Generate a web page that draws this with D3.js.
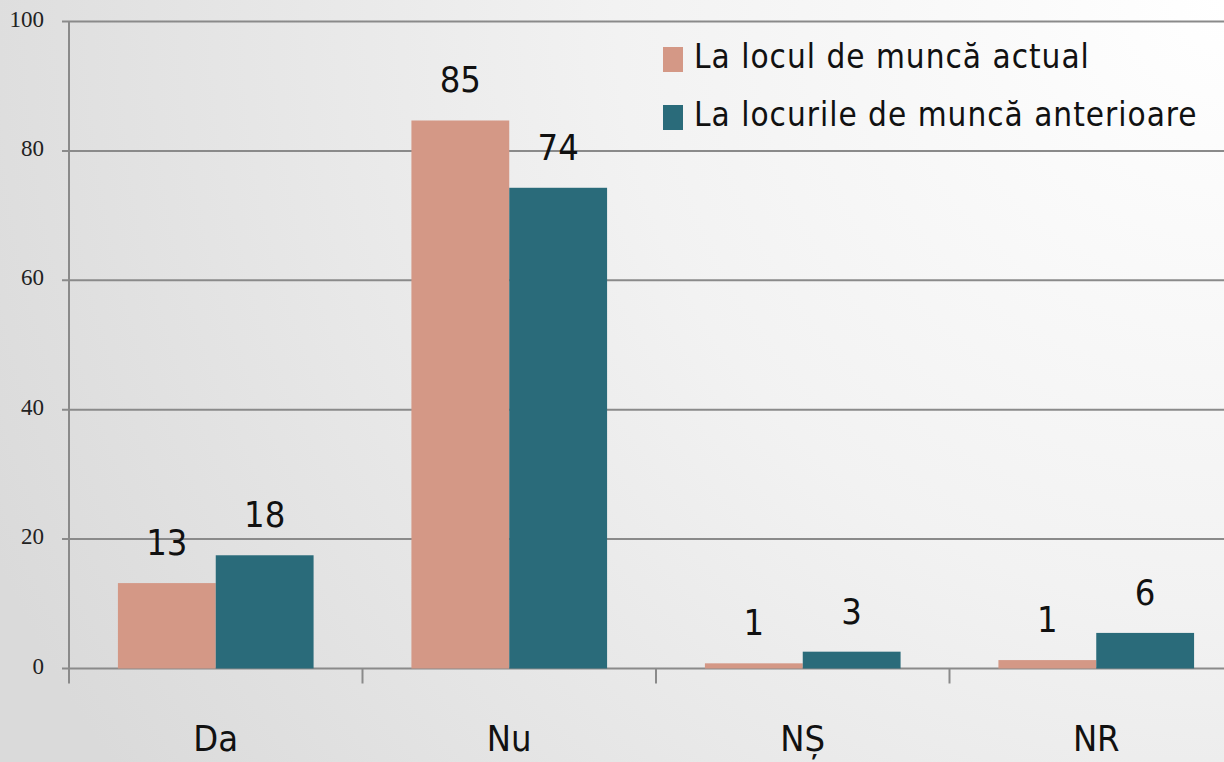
<!DOCTYPE html>
<html lang="ro">
<head>
<meta charset="UTF-8">
<title>La locul de muncă</title>
<script src="https://d3js.org/d3.v7.min.js"></script>
<style>
  body { margin: 0; overflow: hidden; }
  .cond { font-family: "DejaVu Sans Condensed", "Liberation Sans Narrow", "Roboto", sans-serif; }
  .tick-label { font-family: "Liberation Serif", "DejaVu Serif", serif; }
</style>
</head>
<body>
<svg width="1224" height="762"></svg>
<script>
// data
const categories = ["Da", "Nu", "NȘ", "NR"];
const seriesNames = ["La locul de muncă actual", "La locurile de muncă anterioare"];
const actual = [13.2, 84.7, 0.8, 1.3];
const anterior = [17.5, 74.3, 2.6, 5.5];
const actualLabels = ["13", "85", "1", "1"];
const anteriorLabels = ["18", "74", "3", "6"];
const yTicks = [0, 20, 40, 60, 80, 100];
const colors = ["#D49886", "#2A6B7A"];

const W = 1224, H = 762;
const svg = d3.select("svg");

// background: grey on the left/bottom, white towards top right
const defs = svg.append("defs");
const grad = defs.append("radialGradient")
    .attr("id", "bg")
    .attr("gradientUnits", "userSpaceOnUse")
    .attr("cx", 1224).attr("cy", 0).attr("r", 1350);
grad.append("stop").attr("offset", "0").attr("stop-color", "#ffffff");
grad.append("stop").attr("offset", "0.45").attr("stop-color", "#f2f2f2");
grad.append("stop").attr("offset", "1").attr("stop-color", "#dadada");
svg.append("rect").attr("width", W).attr("height", H).attr("fill", "url(#bg)");

const x0 = 69;
const band = 293.5;
const x = d3.scaleBand().domain(categories).range([x0, x0 + band * categories.length]);
const xi = d3.scaleBand().domain([0, 1]).range([0, x.bandwidth()]).paddingOuter(0.5);
const y = d3.scaleLinear().domain([0, 100]).range([668.5, 21.5]);

// gridlines + y ticks
const grid = svg.append("g");
grid.selectAll("line").data(yTicks).join("line")
    .attr("x1", 62).attr("x2", W)
    .attr("y1", d => y(d)).attr("y2", d => y(d))
    .attr("stroke", "#8a8a8a").attr("stroke-width", 2);
grid.selectAll("text").data(yTicks).join("text")
    .attr("class", "tick-label")
    .attr("x", 44).attr("y", d => y(d) - 3)
    .attr("dy", "0.35em")
    .attr("text-anchor", "end")
    .attr("font-size", 23)
    .attr("fill", "#222")
    .text(d => d);

// y axis line
svg.append("line")
    .attr("x1", x0).attr("x2", x0)
    .attr("y1", y(100)).attr("y2", y(0) + 15)
    .attr("stroke", "#8a8a8a").attr("stroke-width", 2);

// category separators below the axis
svg.append("g").selectAll("line").data(categories.slice(1)).join("line")
    .attr("x1", d => x(d)).attr("x2", d => x(d))
    .attr("y1", y(0)).attr("y2", y(0) + 15)
    .attr("stroke", "#8a8a8a").attr("stroke-width", 2);

const rows = categories.map((c, i) => [
    { c, s: 0, v: actual[i], l: actualLabels[i] },
    { c, s: 1, v: anterior[i], l: anteriorLabels[i] }
]).flat();

svg.append("g").selectAll("rect").data(rows).join("rect")
    .attr("x", d => x(d.c) + xi(d.s))
    .attr("width", xi.bandwidth())
    .attr("y", d => y(d.v))
    .attr("height", d => y(0) - y(d.v))
    .attr("fill", d => colors[d.s]);

svg.append("g").selectAll("text").data(rows).join("text")
    .attr("class", "cond")
    .attr("x", d => x(d.c) + xi(d.s) + xi.bandwidth() / 2)
    .attr("y", d => y(d.v) - 28)
    .attr("text-anchor", "middle")
    .attr("font-size", 36)
    .attr("fill", "#111")
    .text(d => d.l);

// category labels
svg.append("g").selectAll("text").data(categories).join("text")
    .attr("class", "cond")
    .attr("x", d => x(d) + x.bandwidth() / 2)
    .attr("y", 751)
    .attr("text-anchor", "middle")
    .attr("font-size", 36)
    .attr("fill", "#111")
    .text(d => d);

// legend
const leg = svg.append("g").selectAll("g").data(seriesNames).join("g")
    .attr("transform", (d, i) => `translate(663, ${47 + i * 58})`);
leg.append("rect").attr("width", 20).attr("height", 25)
    .attr("fill", (d, i) => colors[i]);
leg.append("text")
    .attr("class", "cond")
    .attr("x", 31).attr("y", 21)
    .attr("font-size", 33)
    .attr("letter-spacing", 1)
    .attr("fill", "#111")
    .text(d => d);
</script>
</body>
</html>
